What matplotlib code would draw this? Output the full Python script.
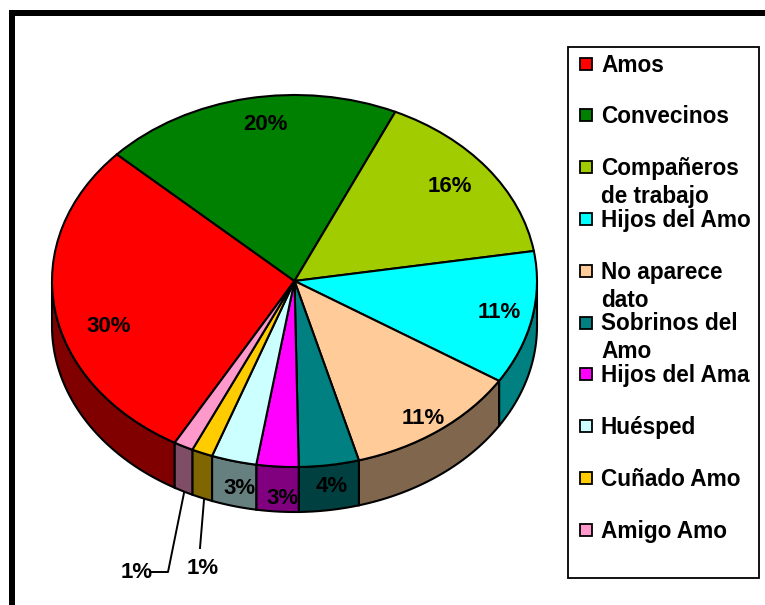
import matplotlib
matplotlib.use("Agg")
import matplotlib.pyplot as plt
import numpy as np

plt.rcParams['font.family'] = ['Liberation Sans', 'DejaVu Sans']

# Data
categories = ['Amos', 'Convecinos', 'Compañeros\nde trabajo', 'Hijos del Amo', 'No aparece\ndato',
              'Sobrinos del\nAmo', 'Hijos del Ama', 'Huésped', 'Cuñado Amo', 'Amigo Amo']
shares = [28.7, 19.9, 15.6, 11.6, 11.7, 4.0, 2.8, 3.0, 1.4, 1.3]
percent_labels = ['30%', '20%', '16%', '11%', '11%', '4%', '3%', '3%', '1%', '1%']
colors = ['#ff0000', '#008000', '#a0cc00', '#00ffff', '#ffcc99',
          '#008080', '#ff00ff', '#ccffff', '#ffcc00', '#ff99cc']
side_colors = ['#800000', '#004000', '#506600', '#008080', '#80664d',
               '#004040', '#800080', '#668080', '#806600', '#804d66']

W, H = 765, 605
cx, cy, rx, ry = 294.5, 281, 242.5, 186
depth = 45 / ry
start_angle = 240.4

fig = plt.figure(figsize=(W / 100, H / 100), dpi=100)

# Pie axes: one data unit is the ellipse radius in each direction
ax = fig.add_axes([0, 0, 1, 1])
ax.pie(shares, colors=colors, startangle=start_angle, counterclock=False, radius=1,
       wedgeprops={'edgecolor': 'black', 'linewidth': 1.5, 'zorder': 3})
ax.set_aspect('auto')
ax.set_xlim(-cx / rx, (W - cx) / rx)
ax.set_ylim(-(H - cy) / ry, cy / ry)

# Side of the disc, only where the slice faces the viewer
ends = start_angle - np.cumsum(shares) / np.sum(shares) * 360
begins = np.concatenate(([start_angle], ends[:-1]))
for a0, a1, col in zip(begins, ends, side_colors):
    t = np.linspace(a0, a1, 120)
    t = t[np.sin(np.radians(t)) <= 0.0001]
    if len(t) < 2:
        continue
    x = np.cos(np.radians(t))
    y = np.sin(np.radians(t))
    ax.fill(np.r_[x, x[::-1]], np.r_[y, y[::-1] - depth], facecolor=col,
            edgecolor='black', linewidth=1.5, zorder=2)

# Overlay in pixel coordinates for the frame, labels and legend
ov = fig.add_axes([0, 0, 1, 1])
ov.set_xlim(0, W)
ov.set_ylim(H, 0)
ov.axis('off')
ov.patch.set_alpha(0)

# Thick frame, top and left only are in view
ov.add_patch(plt.Rectangle((9, 10), W, 6, color='black', lw=0))
ov.add_patch(plt.Rectangle((9, 10), 6, H, color='black', lw=0))

# Percent labels
label_pos = [(109, 327), (266, 125), (450, 187), (499, 313), (423, 418),
             (332, 486), (283, 498), (240, 489), (137, 572), (203, 568)]
for (lx, ly), txt in zip(label_pos, percent_labels):
    ov.text(lx, ly, txt, fontsize=16, fontweight='bold', ha='center', va='center')

# Leader lines of the two small slices
ov.plot([184, 168, 152], [493, 572, 572], color='black', lw=1.4)
ov.plot([204, 200], [500, 548], color='black', lw=1.4)

# Legend box
ov.add_patch(plt.Rectangle((568, 47), 191, 531, facecolor='white', edgecolor='black', lw=1.3))
row_y = 65
row_step = 51.8
for i, (name, col) in enumerate(zip(categories, colors)):
    y = row_y + i * row_step
    ov.add_patch(plt.Rectangle((580.5, y - 7.5), 12, 12, facecolor=col, edgecolor='black', lw=1.3))
    for j, line in enumerate(name.split('\n')):
        ov.text(601, y + j * 28, line, fontsize=16.3, fontweight='bold', ha='left', va='center')

fig.savefig('out.png', dpi=100)
